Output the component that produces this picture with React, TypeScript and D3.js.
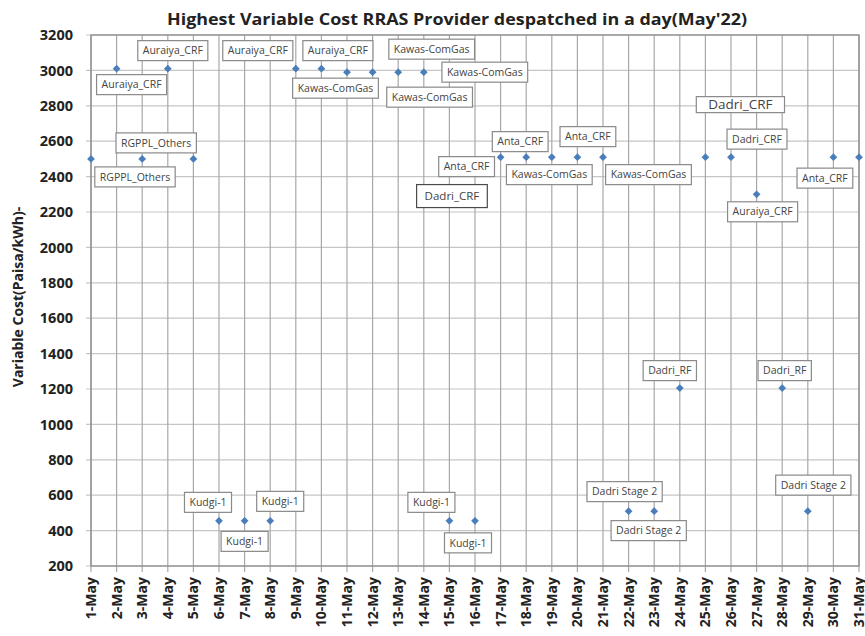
import * as d3 from "d3";
import React, { useEffect, useRef } from "react";

const days = [
  "1-May", "2-May", "3-May", "4-May", "5-May", "6-May", "7-May", "8-May",
  "9-May", "10-May", "11-May", "12-May", "13-May", "14-May", "15-May", "16-May",
  "17-May", "18-May", "19-May", "20-May", "21-May", "22-May", "23-May", "24-May",
  "25-May", "26-May", "27-May", "28-May", "29-May", "30-May", "31-May",
];
const costs = [
  2500, 3010, 2500, 3010, 2500, 455, 455, 455, 3010, 3010, 2990, 2990, 2990, 2990,
  455, 455, 2510, 2510, 2510, 2510, 2510, 510, 510, 1205, 2510, 2510, 2300, 1205,
  510, 2510, 2510,
];
const providers = [
  "RGPPL_Others", "Auraiya_CRF", "RGPPL_Others", "Auraiya_CRF", "", "Kudgi-1",
  "Kudgi-1", "Kudgi-1", "Auraiya_CRF", "Auraiya_CRF", "Kawas-ComGas", "Kawas-ComGas",
  "Kawas-ComGas", "Kawas-ComGas", "Kudgi-1", "Kudgi-1", "Anta_CRF", "Anta_CRF",
  "Kawas-ComGas", "Anta_CRF", "Kawas-ComGas", "Dadri Stage 2", "Dadri Stage 2",
  "Dadri_RF", "Dadri_CRF", "Dadri_CRF", "Auraiya_CRF", "Dadri_RF", "Dadri Stage 2",
  "Anta_CRF", "",
];
const yTicks = [200, 400, 600, 800, 1000, 1200, 1400, 1600, 1800, 2000, 2200, 2400, 2600, 2800, 3000, 3200];
// loose text box on the plot (day index, value)
const note = { text: "Dadri_CRF", day: 15.1, value: 2290 };

// where each data label box sits, relative to its point (px)
const labelOffsets: ([number, number] | null)[] = [
  [44, 18], [15, 16], [14, -16], [5, -18], null, [-11, -18.5], [0, 20.5], [10, -19.5],
  [-38, -18], [16.5, -18], [-11.5, 16], [57, 25], [33.5, -23], [61, 0], [-18, -18.5],
  [-7, 22], [-34, 9.5], [-6, -15.5], [-2.5, 17.5], [10.5, -20.5], [45.5, 17.5],
  [-4, -19.5], [-5.5, 19.5], [-10, -17.5], [35, -52.5], [26, -18], [6, 17.5],
  [2.5, -17.5], [5.5, -26], [-8.5, 21], null,
];

const W = 865;
const H = 636;
const m = { left: 91, right: 6, top: 35, bottom: 70 };
const font = "'Open Sans', sans-serif";

const App = () => {
  const ref = useRef<SVGSVGElement>(null);

  useEffect(() => {
    const svg = d3.select(ref.current);
    svg.selectAll("*").remove();

    const x = d3.scaleLinear().domain([0, days.length - 1]).range([m.left, W - m.right]);
    const y = d3.scaleLinear().domain([200, 3200]).range([H - m.bottom, m.top]);

    svg.append("rect").attr("width", W).attr("height", H).attr("fill", "#fff");

    // horizontal grid + left ticks
    svg.append("g")
      .selectAll("line")
      .data(yTicks)
      .join("line")
      .attr("x1", m.left - 5)
      .attr("x2", W - m.right)
      .attr("y1", (d) => y(d))
      .attr("y2", (d) => y(d))
      .attr("stroke", "#c6c6c6")
      .attr("stroke-width", 1.2);

    // vertical grid, one per day, running past the axis as tick marks
    svg.append("g")
      .selectAll("line")
      .data(days)
      .join("line")
      .attr("x1", (d, i) => x(i))
      .attr("x2", (d, i) => x(i))
      .attr("y1", m.top)
      .attr("y2", H - m.bottom + 6)
      .attr("stroke", "#a8a8a8")
      .attr("stroke-width", 1.2);

    svg.append("rect")
      .attr("x", m.left)
      .attr("y", m.top)
      .attr("width", W - m.right - m.left)
      .attr("height", H - m.bottom - m.top)
      .attr("fill", "none")
      .attr("stroke", "#8c8c8c")
      .attr("stroke-width", 1.3);

    svg.append("g")
      .selectAll("text")
      .data(yTicks)
      .join("text")
      .attr("x", 73)
      .attr("y", (d) => y(d))
      .attr("dy", "0.36em")
      .attr("text-anchor", "end")
      .attr("font-family", font)
      .attr("font-weight", 700)
      .attr("font-size", 14.5)
      .attr("fill", "#222")
      .text((d) => String(d));

    svg.append("g")
      .selectAll("text")
      .data(days)
      .join("text")
      .attr("transform", (d, i) => `translate(${x(i)},${H - m.bottom + 11}) rotate(-90)`)
      .attr("dy", "0.36em")
      .attr("text-anchor", "end")
      .attr("font-family", font)
      .attr("font-weight", 700)
      .attr("font-size", 14)
      .attr("fill", "#222")
      .text((d) => d);

    svg.append("text")
      .attr("transform", `translate(18,297) rotate(-90)`)
      .attr("dy", "0.36em")
      .attr("text-anchor", "middle")
      .attr("font-family", font)
      .attr("font-weight", 700)
      .attr("font-size", 14)
      .attr("fill", "#222")
      .text("Variable Cost(Paisa/kWh)-");

    svg.append("text")
      .attr("x", 457)
      .attr("y", 25)
      .attr("text-anchor", "middle")
      .attr("font-family", font)
      .attr("font-weight", 700)
      .attr("font-size", 15.5)
      .attr("textLength", 580)
      .attr("lengthAdjust", "spacingAndGlyphs")
      .attr("fill", "#222")
      .text("Highest Variable  Cost RRAS Provider despatched in a day(May'22)");

    const box = (
      cx: number, cy: number, txt: string, size: number, h: number,
      stroke: string, pad: number,
    ) => {
      const g = svg.append("g");
      const r = g.append("rect");
      const t = g.append("text")
        .attr("x", cx)
        .attr("y", cy)
        .attr("dy", "0.35em")
        .attr("text-anchor", "middle")
        .attr("font-family", font)
        .attr("font-size", size)
        .attr("fill", "#444")
        .text(txt);
      const w = (t.node() as SVGTextElement).getComputedTextLength() + pad;
      r.attr("x", cx - w / 2)
        .attr("y", cy - h / 2)
        .attr("width", w)
        .attr("height", h)
        .attr("fill", "#fff")
        .attr("stroke", stroke)
        .attr("stroke-width", 1.2);
    };

    // data labels
    costs.forEach((v, i) => {
      const off = labelOffsets[i];
      if (!off || !providers[i]) return;
      const big = i === 24;
      box(x(i) + off[0], y(v) + off[1], providers[i], big ? 13.5 : 10.5, big ? 16 : 20, "#8a8a8a", big ? 24 : 10);
    });
    box(x(note.day - 1), y(note.value), note.text, 11.5, 23, "#4a4a4a", 16);

    // markers
    svg.append("g")
      .selectAll("path")
      .data(costs)
      .join("path")
      .attr("transform", (d, i) => `translate(${x(i)},${y(d)}) rotate(45)`)
      .attr("d", d3.symbol(d3.symbolSquare, 30)())
      .attr("fill", "#4a7ebb");
  }, []);

  return (
    <svg
      ref={ref}
      width={W}
      height={H}
      style={{ position: "absolute", left: 0, top: 0, background: "#fff" }}
    />
  );
};

export default App;
